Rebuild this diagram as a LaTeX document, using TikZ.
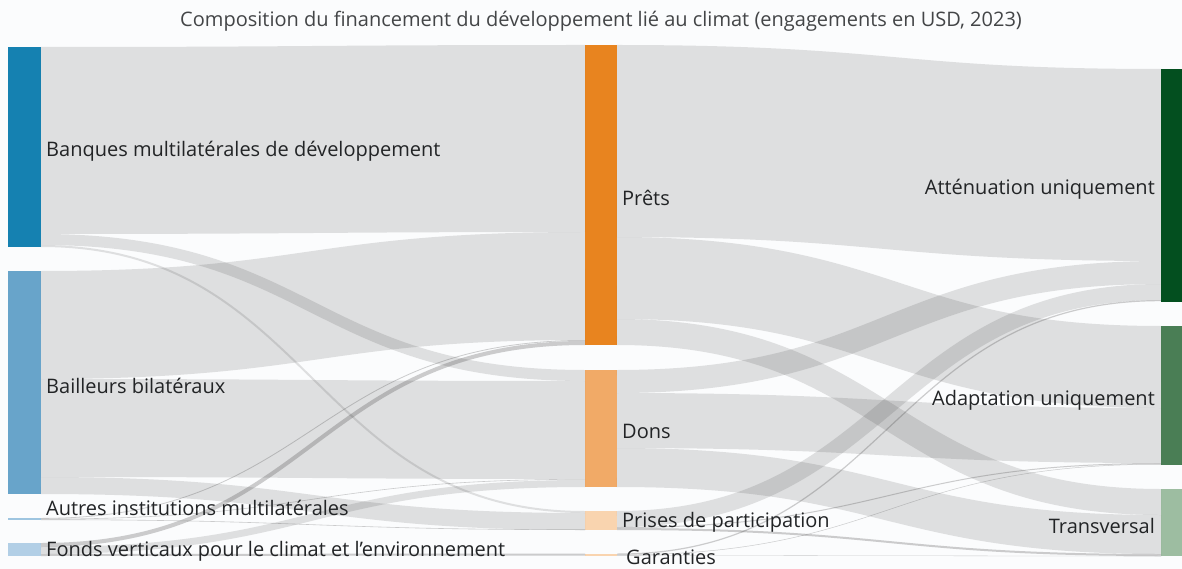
\documentclass[tikz,border=0pt]{standalone}
\usepackage{fontspec}
\setmainfont{Open Sans}
\usetikzlibrary{calc,positioning}
\definecolor{fond}{HTML}{FBFCFD}
\definecolor{texte}{HTML}{222426}
\definecolor{cBMD}{HTML}{1581B1}
\definecolor{cBIL}{HTML}{68A4CA}
\definecolor{cAUT}{HTML}{9EC5E0}
\definecolor{cFV}{HTML}{B2CFE6}
\definecolor{cPR}{HTML}{E8841F}
\definecolor{cDO}{HTML}{F1AA67}
\definecolor{cPP}{HTML}{F9D4AF}
\definecolor{cAT}{HTML}{034F1F}
\definecolor{cAD}{HTML}{4A7E55}
\definecolor{cTR}{HTML}{9DBDA1}
% flux: [style] source, decalage source, cible, decalage cible, largeur
\newcommand{\flux}[6][]{\draw[flux,#1,line width=#6pt] ($(#2.north east)+(0,#3+#6/2)$) .. controls +(272,0) and +(-272,0) .. ($(#4.north west)+(0,#5+#6/2)$);}

\begin{document}
\begin{tikzpicture}
[x=1pt,y=-1pt,
bar/.style = {rectangle, inner sep = 0pt, outer sep = 0pt, anchor = north west, minimum width = 33pt},
lbl/.style = {inner sep = 0pt, text = texte, font = \fontsize{20}{23}\selectfont},
flux/.style = {draw = black!80, draw opacity = 0.14},
fin/.style = {draw opacity = 0.24},]
\fill[fond] (0,0) rectangle (1182,569);
\useasboundingbox (0,0) rectangle (1182,569);
% sources
\node (BMD) at (8,47)[bar,fill=cBMD,minimum height=200pt] {};
\node (BIL) at (8,271)[bar,fill=cBIL,minimum height=223pt] {};
\node (AUT) at (8,518)[bar,fill=cAUT,minimum height=2pt] {};
\node (FV) at (8,543)[bar,fill=cFV,minimum height=13pt] {};
% instruments
\node (PR) at (585,45)[bar,fill=cPR,minimum width=32pt,minimum height=300pt] {};
\node (DO) at (585,370)[bar,fill=cDO,minimum width=32pt,minimum height=117pt] {};
\node (PP) at (585,511)[bar,fill=cPP,minimum width=32pt,minimum height=19pt] {};
\node (GA) at (585,553.5)[bar,fill=cPP,minimum width=32pt,minimum height=2.5pt] {};
% objectifs
\node (AT) at (1161,69)[bar,fill=cAT,minimum width=21pt,minimum height=233pt] {};
\node (AD) at (1161,326)[bar,fill=cAD,minimum width=21pt,minimum height=139pt] {};
\node (TR) at (1161,489)[bar,fill=cTR,minimum width=21pt,minimum height=67pt] {};
% sources -> instruments
\flux{BMD}{0}{PR}{0}{187}
\flux{BMD}{187}{DO}{0}{11}
\flux{BMD}{198}{PP}{0}{2}
\flux{BIL}{0}{PR}{187}{108}
\flux{BIL}{108}{DO}{11}{98}
\flux{BIL}{206}{PP}{2}{17}
\flux[fin]{AUT}{0}{PR}{295}{0.8}
\flux[fin]{AUT}{0.8}{DO}{109}{0.6}
\flux[fin]{AUT}{1.4}{PP}{18.4}{0.6}
\flux[fin]{FV}{0}{PR}{296}{4}
\flux{FV}{4}{DO}{110}{7}
\flux[fin]{FV}{11}{GA}{0}{2}
% instruments -> objectifs
\flux{PR}{0}{AT}{0}{192}
\flux{PR}{192}{AD}{0}{82}
\flux{PR}{274}{TR}{0}{26}
\flux{DO}{0}{AT}{192}{23}
\flux{DO}{23}{AD}{82}{55}
\flux{DO}{78}{TR}{26}{39}
\flux{PP}{0}{AT}{215}{16}
\flux[fin]{PP}{16}{AD}{137}{1}
\flux[fin]{PP}{17}{TR}{65}{2}
\flux[fin]{GA}{0}{AT}{231}{1.2}
\flux[fin]{GA}{1.2}{AD}{138}{0.5}
\flux[fin]{GA}{1.7}{TR}{67}{0.3}
% etiquettes
\node[lbl,right=5pt of BMD,yshift=-4pt] {Banques multilatérales de développement};
\node[lbl,right=5pt of BIL,yshift=-3pt] {Bailleurs bilatéraux};
\node[lbl,right=5pt of AUT,yshift=11pt] {Autres institutions multilatérales};
\node[lbl,right=5pt of FV,yshift=-2pt] {Fonds verticaux pour le climat et l’environnement};
\node[lbl,right=5pt of PR,yshift=-3pt] {Prêts};
\node[lbl,right=5pt of DO,yshift=-3pt] {Dons};
\node[lbl,right=5pt of PP,yshift=-2pt] {Prises de participation};
\node[lbl,right=9pt of GA,yshift=-3pt] {Garanties};
\node[lbl,left=6pt of AT,yshift=-4pt] {Atténuation uniquement};
\node[lbl,left=6pt of AD,yshift=-5pt] {Adaptation uniquement};
\node[lbl,left=6pt of TR,yshift=-3pt] {Transversal};
\node (titre) at (601,21)[lbl,text=texte!85] {Composition du financement du développement lié au climat (engagements en USD, 2023)};
\end{tikzpicture}
\end{document}
